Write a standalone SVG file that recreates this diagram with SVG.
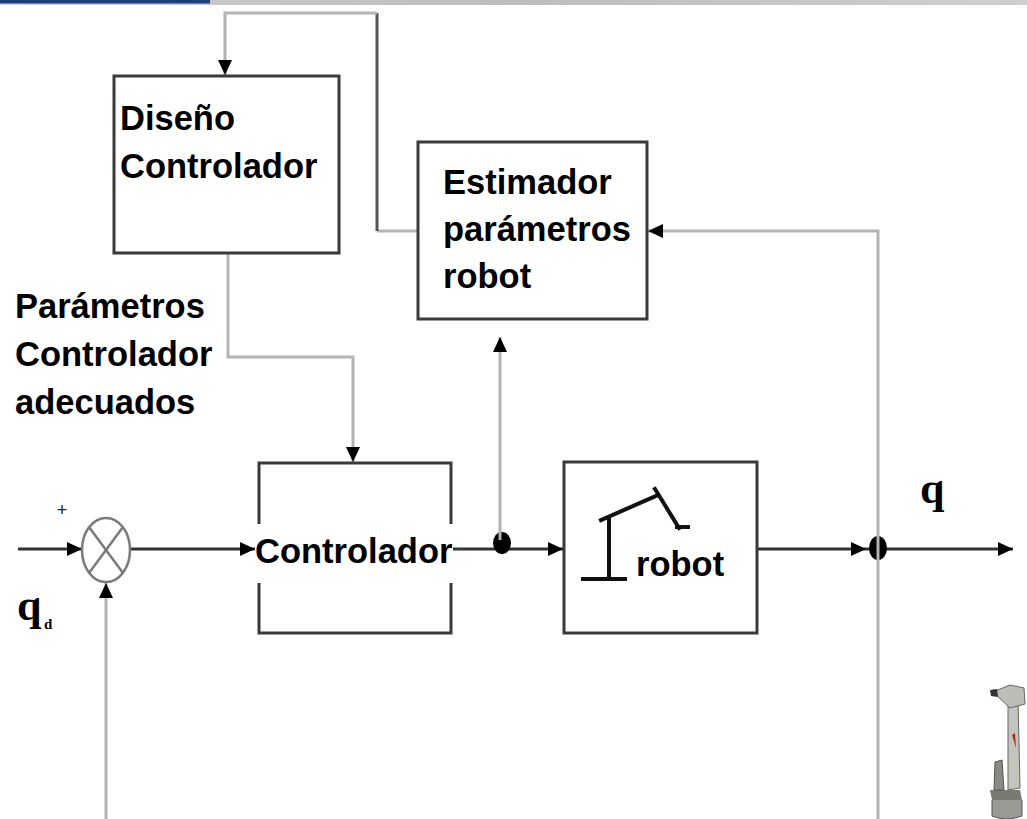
<svg xmlns="http://www.w3.org/2000/svg" width="1027" height="819" viewBox="0 0 1027 819">
  <style>
    .box { fill: #ffffff; stroke: #3a3a3a; stroke-width: 3; }
    .lbl { font-family: "Liberation Sans", Arial, sans-serif; font-weight: bold; font-size: 34.5px; fill: #000000; }
    .sym { font-family: "Liberation Serif", "Times New Roman", serif; font-weight: bold; fill: #000000; }
    .fwd { fill: none; stroke: #333333; stroke-width: 3; }
    .fb { fill: none; stroke: #b4b4b4; stroke-width: 3; }
    .fbd { fill: none; stroke: #555555; stroke-width: 3; }
  </style>
  <defs>
    <marker id="arrow" markerUnits="userSpaceOnUse" markerWidth="16" markerHeight="14" refX="15" refY="7" orient="auto">
      <path d="M0,0 L15,7 L0,14 Z" fill="#000000"/>
    </marker>
    <linearGradient id="band" x1="0" y1="0" x2="1" y2="0">
      <stop offset="0" stop-color="#d0d0d0"/>
      <stop offset="0.5" stop-color="#bdbdbd"/>
      <stop offset="1" stop-color="#cfcfcf"/>
    </linearGradient>
  </defs>

  <rect width="1027" height="819" fill="#ffffff"/>

  <!-- header band -->
  <rect x="0" y="0" width="1027" height="5" fill="url(#band)"/>
  <rect x="0" y="0" width="210" height="3.5" fill="#1e3f78"/>

  <!-- connectors -->
  <g id="connectors">
    <!-- reference input -->
    <line class="fwd" x1="18" y1="549" x2="82" y2="549" marker-end="url(#arrow)"/>
    <!-- error to controller -->
    <line class="fwd" x1="130" y1="549" x2="255" y2="549" marker-end="url(#arrow)"/>
    <!-- controller to robot -->
    <line class="fwd" x1="453" y1="549" x2="563" y2="549" marker-end="url(#arrow)"/>
    <ellipse cx="502" cy="543" rx="9" ry="11" fill="#000000"/>
    <!-- control signal to estimator -->
    <line class="fb" x1="500" y1="540" x2="500" y2="337" marker-end="url(#arrow)"/>
    <!-- robot output -->
    <line class="fwd" x1="757" y1="549" x2="866" y2="549" marker-end="url(#arrow)"/>
    <line class="fwd" x1="866" y1="549" x2="1013" y2="549" marker-end="url(#arrow)"/>
    <ellipse cx="878" cy="548" rx="9" ry="12" fill="#000000"/>
    <!-- output feedback -->
    <polyline class="fb" points="878,819 878,231 648,231" marker-end="url(#arrow)"/>
    <line class="fb" x1="106" y1="819" x2="106" y2="583" marker-end="url(#arrow)"/>
    <!-- estimator to controller design -->
    <line class="fb" x1="417" y1="231" x2="377" y2="231"/>
    <line class="fbd" x1="377" y1="231" x2="377" y2="13"/>
    <polyline class="fb" points="377,13 225,13 225,75" marker-end="url(#arrow)"/>
    <!-- design to controller -->
    <polyline class="fb" points="228,254 228,357 353,357 353,462" marker-end="url(#arrow)"/>
  </g>

  <!-- summing junction -->
  <g id="sum">
    <ellipse cx="106" cy="550" rx="24" ry="32" fill="#ffffff" stroke="#7a7a7a" stroke-width="2.5"/>
    <line x1="89" y1="527" x2="123" y2="573" stroke="#7a7a7a" stroke-width="2.5"/>
    <line x1="123" y1="527" x2="89" y2="573" stroke="#7a7a7a" stroke-width="2.5"/>
    <text x="62" y="516" font-family="Liberation Sans, Arial, sans-serif" font-size="18" fill="#222222" text-anchor="middle">+</text>
  </g>

  <!-- reference label -->
  <g id="qd">
    <text class="sym" x="17" y="620" font-size="44">q</text>
    <text class="sym" x="44" y="629" font-size="15">d</text>
  </g>

  <!-- output label -->
  <g id="q">
    <text class="sym" x="920" y="503" font-size="44">q</text>
  </g>

  <!-- controller design block -->
  <g id="diseno">
    <rect class="box" x="114" y="76" width="225" height="177"/>
    <text class="lbl" x="120" y="130">Diseño</text>
    <text class="lbl" x="120" y="178">Controlador</text>
  </g>

  <!-- parameter estimator block -->
  <g id="estimador">
    <rect class="box" x="418" y="142" width="229" height="177"/>
    <text class="lbl" x="443" y="194">Estimador</text>
    <text class="lbl" x="443" y="241">parámetros</text>
    <text class="lbl" x="443" y="288">robot</text>
  </g>

  <!-- adapted parameters label -->
  <g id="parametros">
    <text class="lbl" x="15" y="318">Parámetros</text>
    <text class="lbl" x="15" y="366">Controlador</text>
    <text class="lbl" x="15" y="414">adecuados</text>
  </g>

  <!-- controller block (sides open around the label) -->
  <g id="controlador">
    <path class="box" fill="none" d="M259,524 L259,463 L451,463 L451,524"/>
    <path class="box" fill="none" d="M259,583 L259,633 L451,633 L451,583"/>
    <text class="lbl" x="255" y="563">Controlador</text>
  </g>

  <!-- robot block -->
  <g id="robot">
    <rect class="box" x="564" y="462" width="193" height="171"/>
    <g fill="none" stroke="#111111" stroke-width="4" stroke-linecap="square">
      <line x1="583" y1="579" x2="625" y2="579"/>
      <line x1="609" y1="520" x2="609" y2="579"/>
      <line x1="601" y1="520" x2="656" y2="496"/>
      <line x1="655" y1="489" x2="679" y2="528"/>
      <line x1="677" y1="527" x2="688" y2="527"/>
    </g>
    <text class="lbl" x="636" y="576">robot</text>
  </g>

  <!-- industrial arm picture -->
  <g id="arm">
    <path d="M992,800 Q1006,793 1022,800 L1022,816 Q1006,822 992,816 Z" fill="#9a9a94" stroke="#555" stroke-width="1"/>
    <path d="M990,790 L1020,790 L1022,800 L992,800 Z" fill="#7a7a74"/>
    <path d="M995,762 L1002,760 L1004,790 L994,790 Z" fill="#8a8a84" stroke="#555" stroke-width="1"/>
    <path d="M1008,700 L1018,698 L1020,788 L1008,790 Z" fill="#c4c4bc" stroke="#666" stroke-width="1"/>
    <path d="M1012,735 L1015,733 L1016,748 Z" fill="#b03020"/>
    <path d="M993,692 L1010,685 L1024,688 L1025,704 L1010,708 Z" fill="#bdbdb5" stroke="#666" stroke-width="1"/>
    <path d="M990,690 L997,689 L998,697 L991,696 Z" fill="#333"/>
  </g>
</svg>
